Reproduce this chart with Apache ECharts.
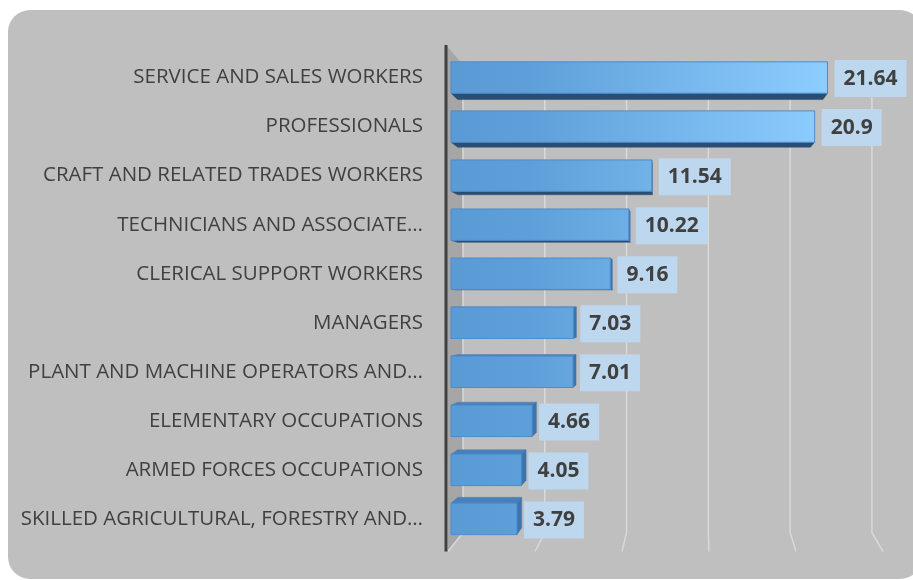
<!DOCTYPE html>
<html>
<head>
<meta charset="utf-8">
<script src="https://cdn.jsdelivr.net/npm/echarts@6/dist/echarts.min.js"></script>
<style>
  html, body { margin: 0; padding: 0; background: #ffffff; }
  #chart { width: 913px; height: 580px; }
</style>
</head>
<body>
<div id="chart"></div>
<script>
// Share of employment by occupation group (%)
const categories = [
  'SERVICE AND SALES WORKERS',
  'PROFESSIONALS',
  'CRAFT AND RELATED TRADES WORKERS',
  'TECHNICIANS AND ASSOCIATE PROFESSIONALS',
  'CLERICAL SUPPORT WORKERS',
  'MANAGERS',
  'PLANT AND MACHINE OPERATORS AND ASSEMBLERS',
  'ELEMENTARY OCCUPATIONS',
  'ARMED FORCES OCCUPATIONS',
  'SKILLED AGRICULTURAL, FORESTRY AND FISHERY WORKERS'
];
const values = [21.64, 20.9, 11.54, 10.22, 9.16, 7.03, 7.01, 4.66, 4.05, 3.79];
const gridTicks = [0, 5, 10, 15, 20, 25];

// Category labels are cut at word boundaries when they run too long
const LABEL_SIZE = 20.5;
const LABEL_FONT = LABEL_SIZE + 'px "Open Sans"';
const LABEL_WIDTH = 412;
const measureCtx = document.createElement('canvas').getContext('2d');
function fitWords(text) {
  measureCtx.font = LABEL_FONT;
  if (measureCtx.measureText(text).width <= LABEL_WIDTH) return text;
  let out = '';
  for (const w of text.split(' ')) {
    const next = out ? out + ' ' + w : w;
    if (measureCtx.measureText(next + '…').width > LABEL_WIDTH) break;
    out = next;
  }
  return out + '…';
}

function toward(p, vp, k) {
  return [vp[0] + (p[0] - vp[0]) * k, vp[1] + (p[1] - vp[1]) * k];
}

// Back wall, side wall and floor lines of the 3-D plot box
function renderBox(params, api) {
  const cs = params.coordSys;
  const frontTop = cs.y - 8;
  const frontBot = cs.y + cs.height + 8;
  const backTop = frontTop + 20;
  const backBot = frontBot - 19;
  const wallC = cs.x + 200, wallK = 0.94;
  const fx = api.coord([api.value(0), 0])[0];
  const bx = wallC + (fx - wallC) * wallK;
  const children = [];
  if (params.dataIndex === 0) {
    children.push({
      type: 'polygon',
      shape: { points: [[cs.x - 5, frontTop], [bx, backTop], [bx, backBot], [cs.x - 3, frontBot]] },
      style: { fill: '#a6a6a6' }
    });
  }
  children.push({
    type: 'polyline',
    shape: { points: [[bx, backTop], [bx, backBot], [fx - 3, frontBot]] },
    style: { stroke: '#d9d9d9', lineWidth: 1.5, fill: null }
  });
  if (params.dataIndex === 0) {
    children.push({
      type: 'line',
      shape: { x1: cs.x - 5, y1: frontTop, x2: cs.x - 5, y2: frontBot },
      style: { stroke: '#404040', lineWidth: 3 }
    });
  }
  return { type: 'group', children };
}

// Bars drawn as blocks: visible top/bottom/side faces, then the front face and value label
function renderBar(params, api) {
  const cs = params.coordSys;
  const v = api.value(0), i = api.value(1);
  const start = api.coord([0, i]);
  const end = api.coord([v, i]);
  const h = api.size([0, 1])[1] * 0.64;
  const x0 = start[0], x1 = end[0];
  const yT = end[1] - h / 2, yB = end[1] + h / 2;
  const vp = [cs.x + 224, cs.y + 252], k = 0.97;
  const bTL = toward([x0, yT], vp, k), bTR = toward([x1, yT], vp, k);
  const bBL = toward([x0, yB], vp, k), bBR = toward([x1, yB], vp, k);
  const children = [];
  if (bBR[1] > yB) {
    children.push({ type: 'polygon',
      shape: { points: [[x0, yB], [x1, yB], bBR, bBL] },
      style: { fill: '#2a4d73', stroke: '#2a4d73', lineWidth: 0.5 } });
  }
  if (bTR[1] < yT) {
    children.push({ type: 'polygon',
      shape: { points: [[x0, yT], [x1, yT], bTR, bTL] },
      style: { fill: '#4a80ba', stroke: '#4a80ba', lineWidth: 0.5 } });
  }
  if (bTR[0] > x1) {
    children.push({ type: 'polygon',
      shape: { points: [[x1, yT], bTR, bBR, [x1, yB]] },
      style: { fill: '#3e74ac', stroke: '#3e74ac', lineWidth: 0.5 } });
  }
  children.push({
    type: 'rect',
    shape: { x: x0, y: yT, width: x1 - x0, height: yB - yT },
    style: {
      fill: {
        type: 'linear', global: true,
        x: cs.x, y: 0, x2: cs.x + cs.width * 0.87, y2: 0,
        colorStops: [
          { offset: 0, color: '#5b9bd5' },
          { offset: 0.2, color: '#5e9fd9' },
          { offset: 1, color: '#8dcdff' }
        ]
      },
      stroke: '#4b8ccb', lineWidth: 1
    }
  });
  children.push({
    type: 'text',
    x: x1 + 7, y: end[1] + 1,
    style: {
      text: String(v),
      fill: '#404040',
      font: 'bold 21px "Open Sans"',
      align: 'left', verticalAlign: 'middle',
      backgroundColor: '#bdd7ee',
      padding: [8, 9, 8, 9]
    }
  });
  return { type: 'group', children };
}

const chart = echarts.init(document.getElementById('chart'), null, { renderer: 'canvas' });
chart.setOption({
  animation: false,
  backgroundColor: '#ffffff',
  graphic: [{
    type: 'rect', z: -10, silent: true,
    shape: { x: 8, y: 10, width: 914, height: 569, r: 22 },
    style: { fill: '#bfbfbf' }
  }],
  grid: { left: 451, right: 27, top: 53, bottom: 36.5, containLabel: false },
  xAxis: {
    type: 'value', min: 0, max: 25, interval: 5,
    show: false
  },
  yAxis: {
    type: 'category',
    data: categories,
    inverse: true,
    axisLine: { show: false },
    axisTick: { show: false },
    splitLine: { show: false },
    axisLabel: {
      margin: 28,
      color: '#404040',
      fontFamily: 'Open Sans',
      fontSize: LABEL_SIZE,
      formatter: fitWords
    }
  },
  series: [
    {
      type: 'custom', name: 'box', silent: true, z: 1,
      data: gridTicks.map(t => [t]),
      encode: { x: 0 },
      renderItem: renderBox
    },
    {
      type: 'custom', name: 'share', z: 2,
      data: values.map((v, i) => [v, i]),
      encode: { x: 0, y: 1 },
      renderItem: renderBar
    }
  ]
});
</script>
</body>
</html>
